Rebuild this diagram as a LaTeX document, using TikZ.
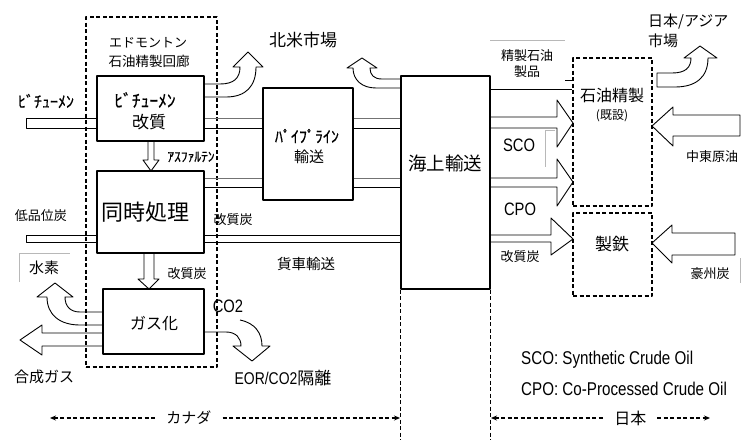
\documentclass[tikz,border=0pt]{standalone}
\usepackage{fontspec}
\setmainfont{Noto Sans CJK JP}
\newfontfamily\narrow[FakeStretch=0.82]{Liberation Sans}
\newfontfamily\hw[FakeBold=0.6]{Noto Sans CJK JP}
\usetikzlibrary{arrows.meta}
\newcommand\fsz[1]{\fontsize{#1}{#1}\selectfont}
\begin{document}
\begin{tikzpicture}[x=1pt,y=-1pt,line join=round,
  proc/.style={draw,line width=1.2pt,inner sep=0pt},
  blk/.style={draw,line width=0.9pt},
  band/.style={draw,line width=0.9pt},
  dbox/.style={draw,line width=1.4pt,dash pattern=on 4pt off 2.5pt,inner sep=0pt},
  dimline/.style={draw,line width=1.3pt,dash pattern=on 4pt off 2.5pt},
  faint/.style={draw=black!28,line width=0.6pt},
  lab/.style={inner sep=0pt,anchor=center}]
\useasboundingbox (0,0) rectangle (748,440);

% ---------- boxes ----------
\node[proc,minimum width=107pt,minimum height=65pt] (kai) at (150.5,108.5) {};
\node[proc,minimum width=107pt,minimum height=82pt] (doji) at (150.5,212) {};
\node[proc,minimum width=101pt,minimum height=65pt] (gas) at (153.5,321.5) {};
\node[proc,minimum width=90pt,minimum height=112pt] (pipe) at (308,144) {};
\node[proc,minimum width=89pt,minimum height=213pt] (kaijo) at (445.5,182.5) {};
\node[dbox,minimum width=79pt,minimum height=148pt] (ref) at (612.5,132) {};
\node[dbox,minimum width=79pt,minimum height=83pt] (steel) at (612.5,254.5) {};
\node[dbox,minimum width=131pt,minimum height=350pt] (edm) at (151.5,192) {};

% ---------- bands ----------
\draw[band] (kai.west |- 0,118) -- (26,118) -- (26,128) -- (kai.west |- 0,128);
\draw[band,draw=black!55] (kai.east |- 0,118) -- (pipe.west |- 0,118);
\draw[band] (kai.east |- 0,128) -- (pipe.west |- 0,128);
\draw[band,draw=black!55] (pipe.east |- 0,118) -- (kaijo.west |- 0,118);
\draw[band] (pipe.east |- 0,128) -- (kaijo.west |- 0,128);
\draw[band,draw=black!55] (doji.east |- 0,178) -- (pipe.west |- 0,178);
\draw[band] (doji.east |- 0,187) -- (pipe.west |- 0,187);
\draw[band,draw=black!55] (pipe.east |- 0,178) -- (kaijo.west |- 0,178);
\draw[band] (pipe.east |- 0,187) -- (kaijo.west |- 0,187);
\draw[band] (doji.west |- 0,235) -- (26,235) -- (26,242) -- (doji.west |- 0,242);
\draw[band] (doji.east |- 0,235) -- (kaijo.west |- 0,235);
\draw[band] (doji.east |- 0,242) -- (kaijo.west |- 0,242);

% ---------- vertical block arrows ----------
\draw[blk] (148,141) -- (148,160) -- (143,160) -- (151,171) -- (159,160) -- (154,160) -- (154,141);
\draw[blk] (144,253) -- (144,279) -- (138,279) -- (149,289) -- (159,279) -- (154,279) -- (154,253);

% ---------- curved arrows ----------
% bitumen upgrader -> North American market
\draw[blk] (204,84) -- (220,84) .. controls (234,84) and (240,78) .. (240,67) -- (233,67) -- (248,52) -- (263,67) -- (256,67) .. controls (256,86) and (246,97) .. (226,97) -- (204,97);
% marine transport -> North American market
\draw[blk] (401,79) -- (382,79) .. controls (374,79) and (370,75) .. (370,68) -- (377,68) -- (362,58) -- (347,68) -- (353,68) .. controls (353,80) and (362,88) .. (376,88) -- (401,88);
% refinery -> Japan/Asia market
\draw[blk] (657,73) -- (672,73) .. controls (685,73) and (691,68) .. (691,58) -- (684,58) -- (700,46) -- (717,58) -- (708,58) .. controls (708,78) and (695,87) .. (675,87) -- (657,87) -- cycle;
% gasification -> hydrogen
\draw[blk] (103,312) -- (80,312) .. controls (70,312) and (65,306) .. (65,297) -- (73,297) -- (55,283) -- (37,297) -- (47,297) .. controls (47,315) and (60,325) .. (80,325) -- (103,325);
% gasification -> CO2
\draw[blk] (240,320) .. controls (255,323) and (262,333) .. (262,346) -- (270,346) -- (252,361) -- (233,346) -- (241,346) .. controls (241,338) and (236,332) .. (226,332) -- (204,332);

% ---------- straight block arrows ----------
\draw[blk] (103,333) -- (42,333) -- (42,325) -- (20,340) -- (42,355) -- (42,346) -- (103,346);
\draw[blk] (490,117) -- (557,117) -- (557,100) -- (573,123) -- (557,147) -- (557,128) -- (490,128);
\draw[blk] (490,178) -- (557,178) -- (557,159) -- (573,182) -- (557,206) -- (557,187) -- (490,187);
\draw[blk] (490,235) -- (551,235) -- (551,218) -- (573,239) -- (551,255) -- (551,242) -- (490,242);
\draw[blk] (740,115) -- (673,115) -- (673,107) -- (652,126) -- (673,146) -- (673,136) -- (740,136) -- cycle;
\draw[blk] (735,233) -- (672,233) -- (672,225) -- (652,243) -- (672,263) -- (672,255) -- (735,255) -- cycle;

% refined products line
\draw[line width=0.9pt] (kaijo.east |- 0,89) -- (ref.west |- 0,89);
\draw[line width=0.6pt] (565,80) -- (572,80);

% faint text-box edges
\draw[faint] (19,282) -- (19,253) -- (70,253);
\draw[faint] (490,40) -- (565,40);
\draw[faint] (555,130) -- (545,130) -- (545,167);
\draw[faint] (740,258) -- (740,283);

% ---------- dimension lines ----------
\draw[dimline] (kaijo.south west) -- (kaijo.south west |- 0,440);
\draw[dimline] (kaijo.south east) -- (kaijo.south east |- 0,440);
\draw[dimline,{Stealth[length=6pt,width=5pt]}-{Stealth[length=6pt,width=5pt]}] (50,418) -- node[pos=0.397,fill=white,inner xsep=9pt,inner ysep=0pt,font=\fsz{15}]{カナダ} (400,418);
\draw[dimline,{Stealth[length=6pt,width=5pt]}-{Stealth[length=6pt,width=5pt]}] (491,418) -- node[pos=0.636,fill=white,inner xsep=9pt,inner ysep=0pt,font=\fsz{16}]{日本} (710,418);

% ---------- labels ----------
\node[lab,font=\fsz{13}] (t1) at (148,43) {エドモントン};
\node[lab,font=\fsz{13.5}] (t2) at (149,61) {石油精製回廊};
\node[lab,font=\hw\fsz{16}] (t3) at (46,101) {ﾋﾞﾁｭｰﾒﾝ};
\node[lab,font=\hw\fsz{17.5}] (t4) at (145,100) {ﾋﾞﾁｭｰﾒﾝ};
\node[lab,font=\fsz{17}] (t5) at (149,122) {改質};
\node[lab,font=\hw\fsz{13.5}] (t6) at (191,157) {ｱｽﾌｧﾙﾃﾝ};
\node[lab,font=\fsz{22}] (t7) at (145,212) {同時処理};
\node[lab,font=\fsz{13}] (t8) at (41,216) {低品位炭};
\node[lab,font=\fsz{13}] (t9) at (233,220) {改質炭};
\node[lab,font=\fsz{13}] (t10) at (187,274) {改質炭};
\node[lab,font=\fsz{15}] (t11) at (44,268) {水素};
\node[lab,font=\fsz{16}] (t12) at (154,324) {ガス化};
\node[lab,font=\fsz{15}] (t13) at (44,377) {合成ガス};
\node[lab,font=\narrow\fsz{18}] (t14) at (228,306) {CO2};
\node[lab,font=\fsz{17}] (t15) at (283,378) {{\narrow EOR/CO2}隔離};
\node[lab,font=\fsz{17}] (t16) at (303,40) {北米市場};
\node[lab,font=\hw\fsz{16}] (t17) at (307,136) {ﾊﾟｲﾌﾟﾗｲﾝ};
\node[lab,font=\fsz{15}] (t18) at (309,157) {輸送};
\node[lab,font=\fsz{18.5}] (t19) at (445,163) {海上輸送};
\node[lab,font=\fsz{14.5}] (t20) at (306,264) {貨車輸送};
\node[lab,font=\fsz{13}] (t21) at (527,56) {精製石油};
\node[lab,font=\fsz{13}] (t22) at (527,72) {製品};
\node[lab,font=\narrow\fsz{18}] (t23) at (519,145) {SCO};
\node[lab,font=\narrow\fsz{18}] (t24) at (520,209) {CPO};
\node[lab,font=\fsz{13}] (t25) at (520,257) {改質炭};
\node[lab,font=\fsz{16}] (t26) at (612,95) {石油精製};
\node[lab,font=\fsz{12}] (t27) at (612,116) {(既設)};
\node[lab,font=\fsz{17}] (t28) at (612,244) {製鉄};
\node[lab,font=\fsz{15},anchor=west] (t29) at (648,22) {日本/アジア};
\node[lab,font=\fsz{15},anchor=west] (t30) at (648,41) {市場};
\node[lab,font=\fsz{13}] (t31) at (712,157) {中東原油};
\node[lab,font=\fsz{13}] (t32) at (710,274) {豪州炭};
\node[lab,font=\narrow\fsz{18.5},anchor=west] (t33) at (521,360) {SCO: Synthetic Crude Oil};
\node[lab,font=\narrow\fsz{18.5},anchor=west] (t34) at (521,389) {CPO: Co-Processed Crude Oil};
\end{tikzpicture}
\end{document}
